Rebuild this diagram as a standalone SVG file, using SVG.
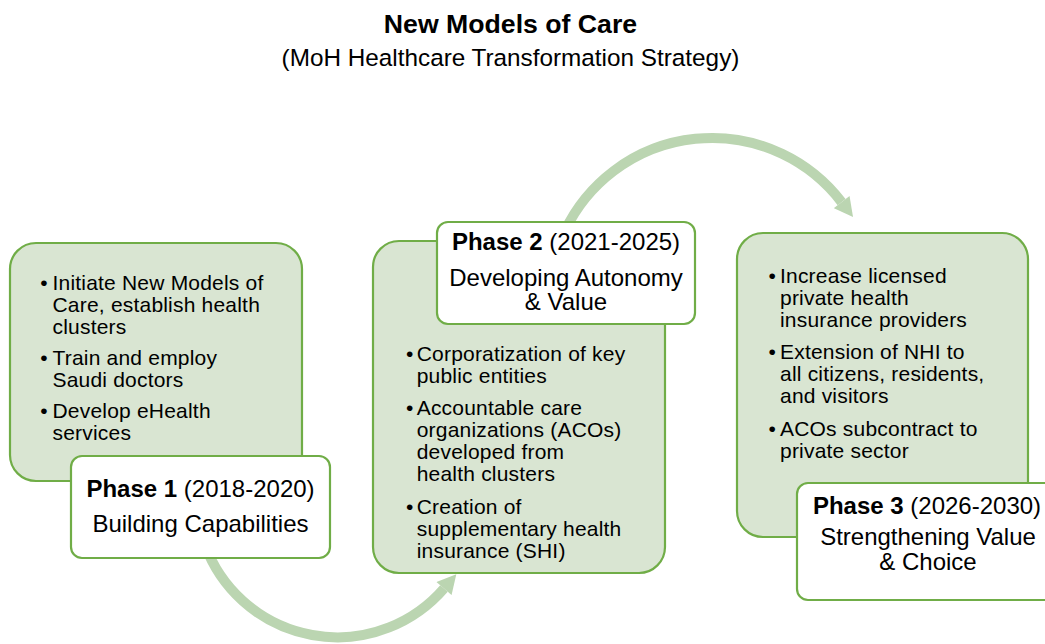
<svg xmlns="http://www.w3.org/2000/svg" width="1045" height="644" viewBox="0 0 1045 644">
  <style>
    text { font-family: "Liberation Sans", Arial, sans-serif; fill: #000; }
    .title { font-size: 26.67px; font-weight: bold; text-anchor: middle; }
    .subtitle { font-size: 24.3px; text-anchor: middle; }
    .body { font-size: 21px; letter-spacing: 0.2px; }
    .head { font-size: 24px; text-anchor: middle; }
    .head tspan.b { font-weight: bold; }
    .panel { fill: #D9E5D2; stroke: #70AD47; stroke-width: 2.2; }
    .label { fill: #FFFFFF; stroke: #70AD47; stroke-width: 2.2; }
    .flow { fill: none; stroke: #BBD5B1; stroke-width: 10; marker-end: url(#head); }
  </style>
  <defs>
    <marker id="head" markerUnits="userSpaceOnUse" markerWidth="20" markerHeight="20" refX="0" refY="8.5" orient="auto" viewBox="0 0 16 17">
      <path d="M0,0 L16,8.5 L0,17 Z" fill="#BBD5B1"/>
    </marker>
  </defs>

  <g id="title">
    <text class="title" x="510.5" y="33">New Models of Care</text>
    <text class="subtitle" x="510.5" y="65.5">(MoH Healthcare Transformation Strategy)</text>
  </g>

  <!-- curved flow arrows between the phases -->
  <g id="connectors">
    <path class="flow" d="M205,545 A141,141 0 0 0 444,588.5"/>
    <path class="flow" d="M565,230.6 A163,163 0 0 1 841.6,202.1"/>
  </g>

  <g id="phase1">
    <rect class="panel" x="10" y="243" width="292" height="238" rx="26"/>
    <text class="body" x="40.3" y="290">•</text>
    <text class="body" x="52.5" y="290">Initiate New Models of</text>
    <text class="body" x="52.5" y="312">Care, establish health</text>
    <text class="body" x="52.5" y="334">clusters</text>
    <text class="body" x="40.3" y="365">•</text>
    <text class="body" x="52.5" y="365">Train and employ</text>
    <text class="body" x="52.5" y="387">Saudi doctors</text>
    <text class="body" x="40.3" y="418">•</text>
    <text class="body" x="52.5" y="418">Develop eHealth</text>
    <text class="body" x="52.5" y="440">services</text>
    <rect class="label" x="71" y="456" width="259" height="102" rx="11"/>
    <text class="head" x="200.5" y="497"><tspan class="b">Phase 1</tspan> (2018-2020)</text>
    <text class="head" x="200.5" y="532">Building Capabilities</text>
  </g>

  <g id="phase2">
    <rect class="panel" x="373" y="241" width="292" height="332" rx="26"/>
    <text class="body" x="406" y="361">•</text>
    <text class="body" x="416.7" y="361">Corporatization of key</text>
    <text class="body" x="416.7" y="383">public entities</text>
    <text class="body" x="406" y="415">•</text>
    <text class="body" x="416.7" y="415">Accountable care</text>
    <text class="body" x="416.7" y="437">organizations (ACOs)</text>
    <text class="body" x="416.7" y="459">developed from</text>
    <text class="body" x="416.7" y="481">health clusters</text>
    <text class="body" x="406" y="514">•</text>
    <text class="body" x="416.7" y="514">Creation of</text>
    <text class="body" x="416.7" y="536">supplementary health</text>
    <text class="body" x="416.7" y="558">insurance (SHI)</text>
    <rect class="label" x="437" y="222" width="258" height="102" rx="11"/>
    <text class="head" x="566" y="250"><tspan class="b">Phase 2</tspan> (2021-2025)</text>
    <text class="head" x="566" y="285.5">Developing Autonomy</text>
    <text class="head" x="566" y="310">&amp; Value</text>
  </g>

  <g id="phase3">
    <rect class="panel" x="737" y="233" width="291" height="304" rx="26"/>
    <text class="body" x="768.6" y="283">•</text>
    <text class="body" x="780" y="283">Increase licensed</text>
    <text class="body" x="780" y="305">private health</text>
    <text class="body" x="780" y="327">insurance providers</text>
    <text class="body" x="768.6" y="359">•</text>
    <text class="body" x="780" y="359">Extension of NHI to</text>
    <text class="body" x="780" y="381">all citizens, residents,</text>
    <text class="body" x="780" y="403">and visitors</text>
    <text class="body" x="768.6" y="436">•</text>
    <text class="body" x="780" y="436">ACOs subcontract to</text>
    <text class="body" x="780" y="458">private sector</text>
    <rect class="label" x="797" y="483" width="260" height="117" rx="11"/>
    <text class="head" x="927" y="514"><tspan class="b">Phase 3</tspan> (2026-2030)</text>
    <text class="head" x="928" y="545">Strengthening Value</text>
    <text class="head" x="928" y="570">&amp; Choice</text>
  </g>
</svg>
